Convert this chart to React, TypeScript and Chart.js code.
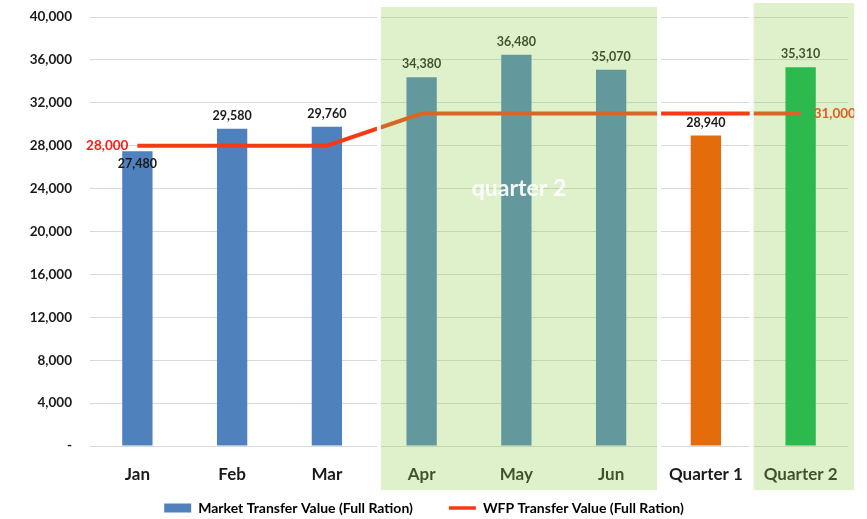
import React, { useEffect, useRef } from "react";
import { Chart, registerables } from "chart.js";

Chart.register(...registerables);

const categories = ["Jan", "Feb", "Mar", "Apr", "May", "Jun", "Quarter 1", "Quarter 2"];
const marketValues = [27480, 29580, 29760, 34380, 36480, 35070, 28940, 35310];
const wfpValues = [28000, 28000, 28000, 31000, 31000, 31000, 31000, 31000];
const barColors = ["#4f81bd", "#4f81bd", "#4f81bd", "#4f81bd", "#4f81bd", "#4f81bd", "#e46c0a", "#00b050"];
const labelBelowTop = [true, false, false, false, false, false, false, false];
const yMax = 40000;
const yStep = 4000;
const seriesNames = ["Market Transfer Value (Full Ration)", "WFP Transfer Value (Full Ration)"];
const quarterText = "quarter 2";
const quarterTextValue = 24000;

const FONT = "Lato, 'Open Sans', sans-serif";
const LINE_COLOR = "#f73a16";
const OVERLAY = "rgba(146, 208, 80, 0.3)";

const fmt = (v: number) => v.toLocaleString("en-US");

const labelsPlugin = {
  id: "customLabels",
  afterDatasetsDraw(chart: any) {
    const ctx = chart.ctx;
    const barMeta = chart.getDatasetMeta(0);
    ctx.save();
    ctx.font = `bold 12.5px ${FONT}`;
    ctx.fillStyle = "#1a1a1a";
    ctx.textAlign = "center";
    ctx.textBaseline = "middle";
    barMeta.data.forEach((bar: any, i: number) => {
      const y = labelBelowTop[i] ? bar.y + 13 : bar.y - 13;
      ctx.fillText(fmt(marketValues[i]), bar.x, y);
    });
    const lineMeta = chart.getDatasetMeta(1);
    const first = lineMeta.data[0];
    const last = lineMeta.data[lineMeta.data.length - 1];
    ctx.font = `bold 13.5px ${FONT}`;
    ctx.fillStyle = "#ff1a1a";
    ctx.textAlign = "right";
    ctx.fillText(fmt(wfpValues[0]), first.x - 9, first.y);
    ctx.fillStyle = "#ff2a10";
    ctx.textAlign = "left";
    ctx.fillText(fmt(wfpValues[wfpValues.length - 1]), last.x + 13, last.y);
    ctx.restore();
  },
  afterDraw(chart: any) {
    const ctx = chart.ctx;
    const x = chart.scales.x;
    const w = x.getPixelForValue(1) - x.getPixelForValue(0);
    const regions = [
      { l: x.getPixelForValue(3) - 0.43 * w, r: x.getPixelForValue(5) + 0.485 * w, t: 7 },
      { l: x.getPixelForValue(7) - 0.495 * w, r: x.getPixelForValue(7) + 0.565 * w, t: 3 },
    ];
    const bottom = 490;
    ctx.save();
    regions.forEach((g) => {
      ctx.fillStyle = "#ffffff";
      ctx.fillRect(g.l - 4, g.t, 4, bottom - g.t);
      ctx.fillRect(g.r, g.t, 4, bottom - g.t);
      ctx.fillStyle = OVERLAY;
      ctx.fillRect(g.l, g.t, g.r - g.l, bottom - g.t);
    });
    const g0 = regions[0];
    ctx.font = `bold 23px ${FONT}`;
    ctx.fillStyle = "rgba(255,255,255,0.92)";
    ctx.textAlign = "center";
    ctx.textBaseline = "middle";
    ctx.fillText(quarterText, (g0.l + g0.r) / 2, chart.scales.y.getPixelForValue(quarterTextValue));
    ctx.restore();
  },
};

export default function App() {
  const ref = useRef<HTMLCanvasElement | null>(null);
  useEffect(() => {
    document.body.style.margin = "0";
    const canvas = ref.current;
    if (!canvas) return;
    const chart = new Chart(canvas, {
      type: "bar",
      data: {
        labels: categories,
        datasets: [
          {
            type: "bar",
            label: seriesNames[0],
            data: marketValues,
            backgroundColor: barColors,
            barPercentage: 0.64,
            categoryPercentage: 0.5,
            order: 2,
          },
          {
            type: "line",
            label: seriesNames[1],
            data: wfpValues,
            borderColor: LINE_COLOR,
            backgroundColor: LINE_COLOR,
            borderWidth: 4,
            pointRadius: 0,
            tension: 0,
            order: 1,
          } as any,
        ],
      },
      options: {
        responsive: false,
        animation: false,
        layout: { padding: { left: 0, right: 19, top: 0, bottom: 0 } },
        plugins: {
          tooltip: { enabled: false },
          legend: {
            position: "bottom",
            maxHeight: 33,
            labels: {
              usePointStyle: true,
              pointStyleWidth: 27,
              boxHeight: 9,
              padding: 15,
              color: "#1a1a1a",
              font: { family: FONT, size: 14, weight: "bold" },
              generateLabels: () => [
                {
                  text: seriesNames[0] + "\u2002\u2002\u2002",
                  fillStyle: barColors[0],
                  strokeStyle: barColors[0],
                  lineWidth: 0,
                  pointStyle: "rect",
                  datasetIndex: 0,
                  hidden: false,
                },
                {
                  text: seriesNames[1],
                  fillStyle: LINE_COLOR,
                  strokeStyle: LINE_COLOR,
                  lineWidth: 3.5,
                  pointStyle: "line",
                  datasetIndex: 1,
                  hidden: false,
                },
              ],
            },
          },
        },
        scales: {
          x: {
            grid: { display: false, drawTicks: false },
            border: { display: false },
            ticks: {
              padding: 18,
              color: "#1a1a1a",
              font: { family: FONT, size: 17, weight: "bold" },
            },
            afterFit: (s: any) => {
              s.height = 40;
            },
          },
          y: {
            min: 0,
            max: yMax,
            grid: { color: "#d9d9d9", drawTicks: false, lineWidth: 1 },
            border: { display: false },
            ticks: {
              stepSize: yStep,
              padding: 18,
              color: "#1a1a1a",
              font: { family: FONT, size: 13.5, weight: "bold" },
              callback: (v: any) => (Number(v) === 0 ? "-" : fmt(Number(v))),
            },
            afterFit: (s: any) => {
              s.width = 90;
              s.paddingTop = 17;
              s.paddingBottom = 0;
            },
          },
        },
      },
      plugins: [labelsPlugin],
    });
    return () => chart.destroy();
  }, []);
  return (
    <div style={{ width: 867, height: 519 }}>
      <canvas ref={ref} width={867} height={519} style={{ display: "block" }} />
    </div>
  );
}
